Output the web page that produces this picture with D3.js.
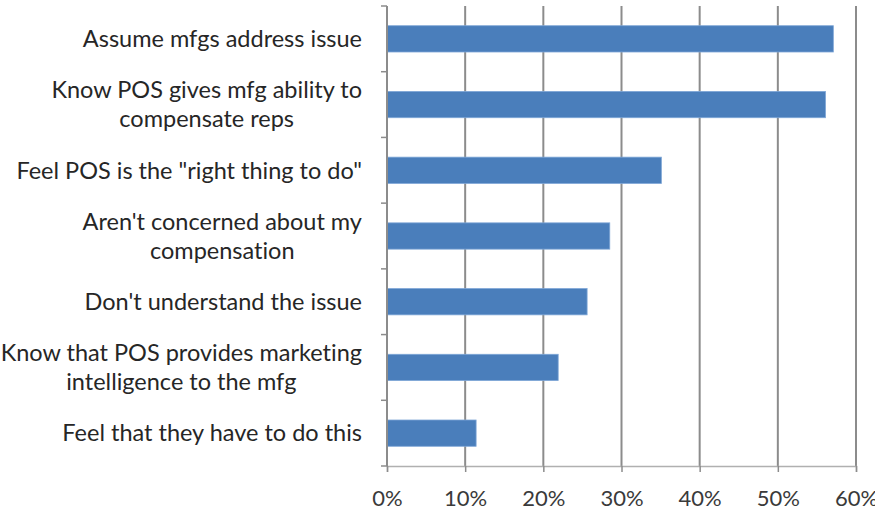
<!DOCTYPE html>
<html>
<head>
<meta charset="utf-8">
<script src="https://cdn.jsdelivr.net/npm/d3@7"></script>
<style>
  body { margin: 0; background: #fff; }
  svg { display: block; }
  text { font-variant-ligatures: none; }
</style>
</head>
<body>
<script>
// Chart data
var categories = [
  ["Assume mfgs address issue"],
  ["Know POS gives mfg ability to", "compensate reps"],
  ["Feel POS is the \"right thing to do\""],
  ["Aren't concerned about my", "compensation"],
  ["Don't understand the issue"],
  ["Know that POS provides marketing", "intelligence to the mfg"],
  ["Feel that they have to do this"]
];
var values = [0.571, 0.561, 0.351, 0.285, 0.256, 0.219, 0.114];
var tickValues = [0, 0.1, 0.2, 0.3, 0.4, 0.5, 0.6];

var svgWidth = 875;
var svgHeight = 510;

var chartMargin = { top: 6, right: 19, bottom: 44, left: 387 };
var chartWidth = svgWidth - chartMargin.left - chartMargin.right;
var chartHeight = svgHeight - chartMargin.top - chartMargin.bottom;

var svg = d3.select("body")
  .append("svg")
  .attr("width", svgWidth)
  .attr("height", svgHeight);

var chartGroup = svg.append("g")
  .attr("transform", `translate(${chartMargin.left}, ${chartMargin.top})`);

var x = d3.scaleLinear()
  .domain([0, 0.6])
  .range([0, chartWidth]);

var y = d3.scaleBand()
  .domain(d3.range(categories.length))
  .range([0, chartHeight])
  .paddingInner(0.6)
  .paddingOuter(0.3);

// vertical gridlines
chartGroup.selectAll(".grid")
  .data(tickValues.slice(1))
  .enter()
  .append("line")
  .attr("x1", d => x(d))
  .attr("x2", d => x(d))
  .attr("y1", 0)
  .attr("y2", chartHeight)
  .style("stroke", "#8c8c8c")
  .style("stroke-width", 2);

// bars
chartGroup.selectAll(".bar")
  .data(values)
  .enter()
  .append("rect")
  .attr("x", 0)
  .attr("y", (d, i) => y(i))
  .attr("width", d => x(d))
  .attr("height", y.bandwidth())
  .style("fill", "#4a7ebb")
  .style("stroke", "#7ea6d6")
  .style("stroke-width", 0.8);

// bottom axis
var xAxis = chartGroup.append("g")
  .attr("transform", "translate(0," + chartHeight + ")")
  .call(d3.axisBottom(x)
    .tickValues(tickValues)
    .tickFormat(d3.format(".0%"))
    .tickSize(6)
    .tickPadding(18));
xAxis.select(".domain").style("stroke", "#b0b0b0").style("stroke-width", 1.5);
xAxis.selectAll(".tick line").style("stroke", "#8c8c8c").style("stroke-width", 1.5);
xAxis.selectAll("text")
  .style("font-family", "Lato, 'Open Sans', sans-serif")
  .style("font-size", "22px")
  .style("fill", "#3a3a3a");

// left axis (ticks between categories)
var leftAxis = chartGroup.append("g");
leftAxis.append("line")
  .attr("x1", 0).attr("x2", 0)
  .attr("y1", 0).attr("y2", chartHeight)
  .style("stroke", "#8c8c8c")
  .style("stroke-width", 2);
var step = chartHeight / categories.length;
leftAxis.selectAll(".ytick")
  .data(d3.range(categories.length + 1))
  .enter()
  .append("line")
  .attr("x1", -6).attr("x2", 0)
  .attr("y1", d => d * step)
  .attr("y2", d => d * step)
  .style("stroke", "#8c8c8c")
  .style("stroke-width", 1.5);

// category labels
var lineHeight = 29;
var labels = chartGroup.selectAll(".label")
  .data(categories)
  .enter()
  .append("text")
  .attr("text-anchor", "middle")
  .style("font-family", "Lato, 'Open Sans', sans-serif")
  .style("font-size", "23.5px")
  .style("fill", "#262626");

labels.each(function(lines, i) {
  var cy = y(i) + y.bandwidth() / 2;
  var t = d3.select(this);
  var startY = cy - (lines.length - 1) * lineHeight / 2;
  lines.forEach(function(line, j) {
    t.append("tspan")
      .attr("x", 0)
      .attr("y", startY + j * lineHeight)
      .attr("dy", "0.35em")
      .text(line);
  });
  // center lines on the widest one and right-align the block
  var bb = this.getBBox();
  var cx = -25 - bb.width / 2;
  t.selectAll("tspan").attr("x", cx);
});
</script>
</body>
</html>
